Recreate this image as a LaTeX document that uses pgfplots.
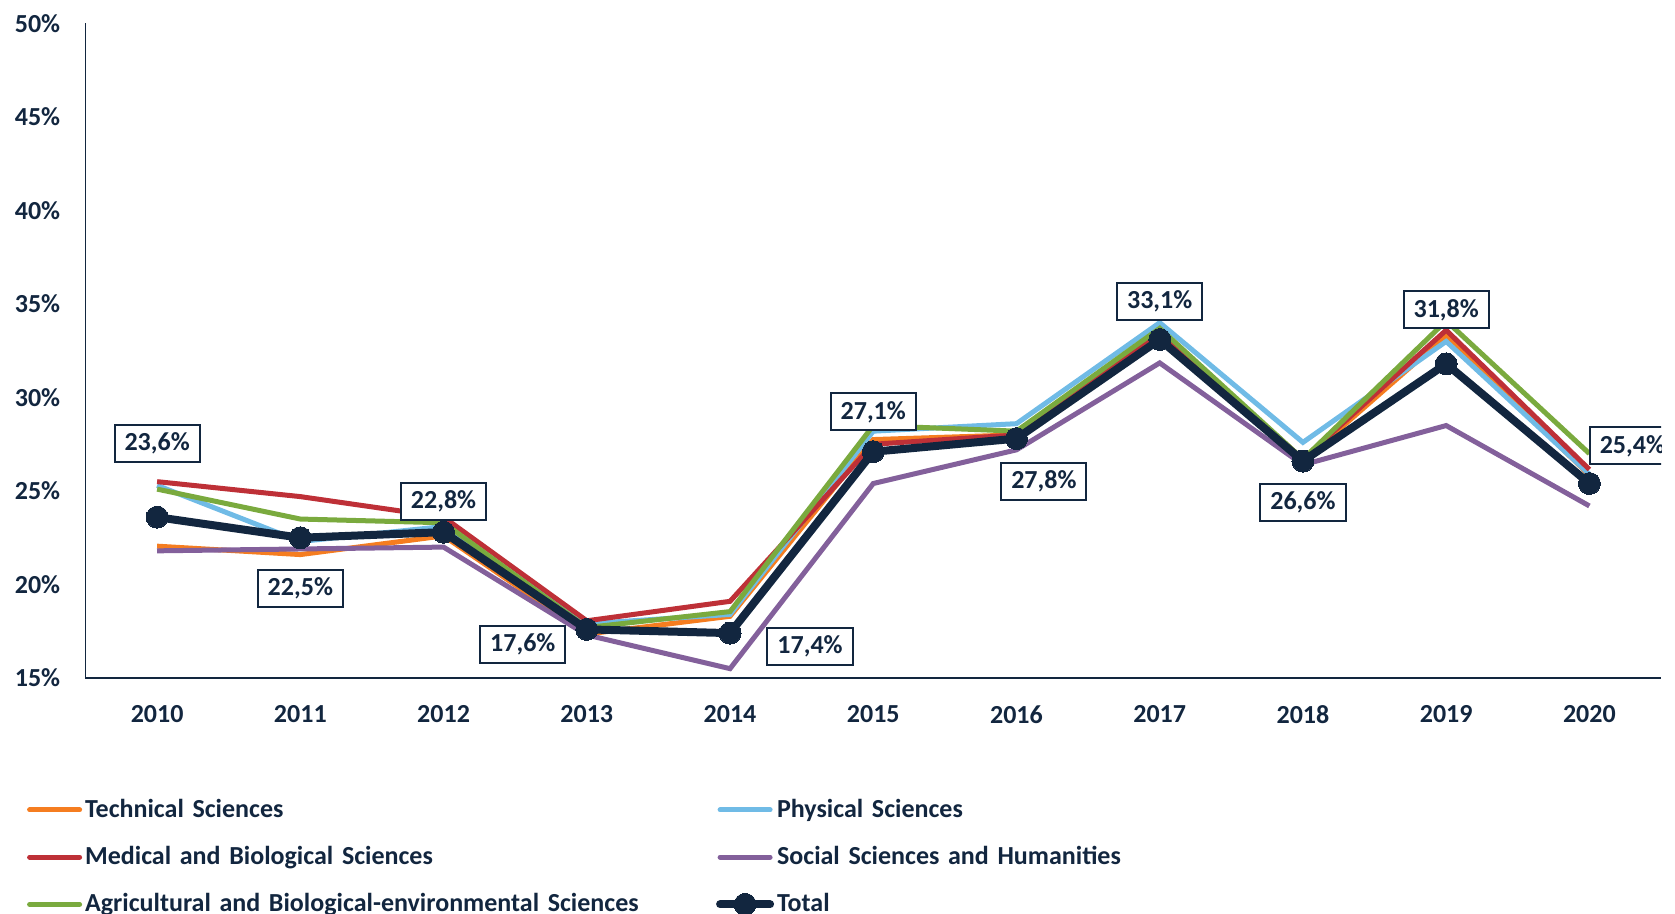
\documentclass[border=0pt]{standalone}
\usepackage{fontspec}
\setmainfont{Carlito}
\usepackage{pgfplots}
\pgfplotsset{compat=1.18}
\definecolor{cOrange}{RGB}{245,125,32}
\definecolor{cBlue}{RGB}{112,187,230}
\definecolor{cRed}{RGB}{190,48,55}
\definecolor{cGreen}{RGB}{122,170,62}
\definecolor{cPurple}{RGB}{131,96,155}
\definecolor{cNavy}{RGB}{18,38,63}
\begin{document}
\begin{tikzpicture}[font=\fontsize{13}{15}\selectfont\bfseries]
\begin{axis}[
  scale only axis, width=787.75pt, height=327.25pt,
  xmin=2009.5, xmax=2020.5, ymin=15, ymax=50,
  xtick={2010,2011,...,2020}, ytick={15,20,...,50},
  axis lines=left, axis line style={-, draw=cNavy, line width=0.8pt},
  tick style={draw=none},
  /pgf/number format/assume math mode=true,
  xticklabel style={/pgf/number format/1000 sep={}, text=cNavy, yshift=-8pt},
  yticklabel={\pgfmathprintnumber{\tick}\%},
  yticklabel style={text=cNavy, xshift=-7pt},
  legend columns=2,
  legend cell align=left,
  legend image code/.code={\draw[line cap=round, mark repeat=2, mark phase=2, #1] plot coordinates {(0pt,0pt) (12.5pt,0pt) (25pt,0pt)};},
  legend style={at={(axis description cs:0,0)}, anchor=north west,
    xshift=-32.4pt, yshift=-56.4pt, draw=none, fill=none,
    text=cNavy, column sep=0pt, row sep=9pt,
    nodes={inner xsep=1.5pt, inner ysep=2pt},
    /tikz/every even column/.append style={text width=314pt}},
]
\addplot[cOrange, line width=2.5pt, mark=none] coordinates {
(2010,22.05) (2011,21.6) (2012,22.6) (2013,17.35) (2014,18.3) (2015,27.75) (2016,28.0) (2017,33.4) (2018,26.6) (2019,33.3) (2020,25.85)};
\addlegendentry{Technical Sciences}
\addplot[cBlue, line width=2.5pt, mark=none] coordinates {
(2010,25.3) (2011,22.3) (2012,23.1) (2013,17.9) (2014,18.4) (2015,28.2) (2016,28.6) (2017,34.0) (2018,27.6) (2019,33.0) (2020,25.9)};
\addlegendentry{Physical Sciences}
\addplot[cRed, line width=2.5pt, mark=none] coordinates {
(2010,25.5) (2011,24.7) (2012,23.6) (2013,18.06) (2014,19.1) (2015,27.5) (2016,28.0) (2017,33.5) (2018,26.7) (2019,33.6) (2020,26.15)};
\addlegendentry{Medical and Biological Sciences}
\addplot[cPurple, line width=2.5pt, mark=none] coordinates {
(2010,21.8) (2011,21.9) (2012,22.0) (2013,17.3) (2014,15.5) (2015,25.4) (2016,27.2) (2017,31.85) (2018,26.4) (2019,28.5) (2020,24.2)};
\addlegendentry{Social Sciences and Humanities}
\addplot[cGreen, line width=2.5pt, mark=none] coordinates {
(2010,25.1) (2011,23.5) (2012,23.3) (2013,17.7) (2014,18.55) (2015,28.5) (2016,28.2) (2017,33.7) (2018,26.7) (2019,34.1) (2020,27.0)};
\addlegendentry{Agricultural and Biological-environmental Sciences}
\addplot[cNavy, line width=4pt, mark=*, mark size=5.5pt, mark options={fill=cNavy, draw=cNavy, line width=0pt}] coordinates {
(2010,23.6) (2011,22.5) (2012,22.8) (2013,17.6) (2014,17.4) (2015,27.1) (2016,27.8) (2017,33.1) (2018,26.6) (2019,31.8) (2020,25.4)};
\addlegendentry{Total}
\tikzset{lbl/.style={draw=cNavy, line width=1pt, fill=white, text=cNavy, inner xsep=5pt, inner ysep=0pt, minimum height=18.5pt}}
\node[lbl] at (axis cs:2010,23.6) [yshift=36.9pt] {23,6\%};
\node[lbl] at (axis cs:2011,22.5) [yshift=-25.4pt] {22,5\%};
\node[lbl] at (axis cs:2012,22.8) [yshift=15.2pt] {22,8\%};
\node[lbl] at (axis cs:2013,17.6) [xshift=-32pt, yshift=-7.5pt] {17,6\%};
\node[lbl] at (axis cs:2014,17.4) [xshift=40pt, yshift=-6.5pt] {17,4\%};
\node[lbl] at (axis cs:2015,27.1) [yshift=19.9pt] {27,1\%};
\node[lbl] at (axis cs:2016,27.8) [xshift=13.7pt, yshift=-21.4pt] {27,8\%};
\node[lbl] at (axis cs:2017,33.1) [yshift=19pt] {33,1\%};
\node[lbl] at (axis cs:2018,26.6) [yshift=-20.6pt] {26,6\%};
\node[lbl] at (axis cs:2019,31.8) [yshift=27pt] {31,8\%};
\node[lbl] at (axis cs:2020,25.4) [xshift=21.5pt, yshift=18.8pt] {25,4\%};
\end{axis}
\pgfresetboundingbox
\path[use as bounding box] ([shift={(-42.75pt,-118pt)}]current axis.south west) rectangle ([shift={(7pt,11.75pt)}]current axis.north east);
\end{tikzpicture}
\end{document}
